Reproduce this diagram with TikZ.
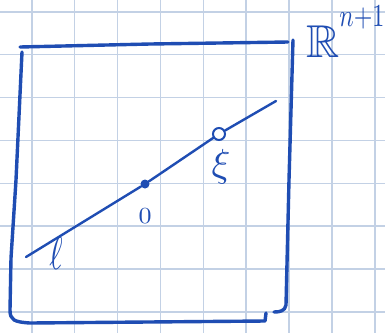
\documentclass[tikz,border=0pt]{standalone}
\usepackage{amsmath}
\usepackage{amssymb}
\usepackage{graphicx}
\usepackage{xcolor}
\usetikzlibrary{positioning}

\definecolor{ink}{HTML}{1F4DB3}
\definecolor{paper}{HTML}{C3D1E5}

\tikzset{
  inkline/.style={ink,line width=3.4pt,line cap=round,line join=round},
  rayline/.style={ink,line width=2.4pt,line cap=round},
  inklabel/.style={ink,inner sep=0pt}
}

\begin{document}
\begin{tikzpicture}[x=1pt,y=-1pt]
  \useasboundingbox (0,0) rectangle (385,333);
  \fill[white](0,0) rectangle (385,333);
  % squared paper
  \foreach \k in {0,...,8}
    \draw[paper,line width=1.6pt](31.7+42.9*\k,0)--(31.7+42.9*\k,333);
  \foreach \k in {0,...,7}
    \draw[paper,line width=1.6pt](0,11.7+42.9*\k)--(385,11.7+42.9*\k);
  % the box
  \draw[inkline](20,47)--(150,44)--(288,42);
  \draw[inkline](22,52)--(16,180)--(11,258)--(10,310)
       .. controls (10,320) and (14,322) .. (30,323)--(265,321)--(266,313);
  \draw[inkline](293,40)--(289,180)--(286,305)
       .. controls (285,311) and (280,312) .. (274,312);
  % the line through 0 and xi
  \node[circle,fill=ink,inner sep=0pt,minimum size=9pt](orig) at (145,184){};
  \node[circle,draw=ink,line width=2pt,inner sep=0pt,minimum size=12pt](xi) at (219,134){};
  \coordinate (lstart) at (26,257);
  \coordinate (lend) at (276,101);
  \draw[rayline](lstart)--(orig);
  \draw[rayline](orig)--(xi);
  \draw[rayline](xi)--(lend);
  % labels
  \node[inklabel] (lbl0) at (145,216){\scalebox{2.6}[2.3]{$0$}};
  \node[inklabel] (lblxi) at (221,167){\scalebox{3.9}{$\xi$}};
  \node[inklabel] (lblell) at (56,254){\scalebox{3.2}[4.6]{$\ell$}};
  \node[inklabel,anchor=base west] (space) at (306,57)
       {\scalebox{4.6}{$\mathbb{R}$}\raisebox{31pt}{\scalebox{2.4}[3.2]{$n{+}1$}}};
\end{tikzpicture}
\end{document}
